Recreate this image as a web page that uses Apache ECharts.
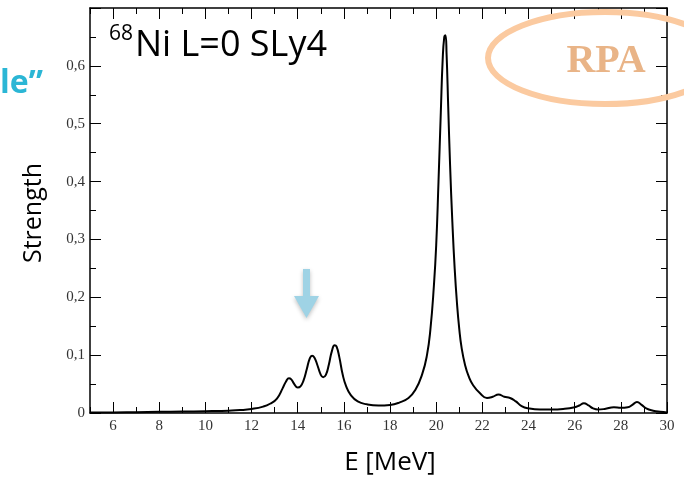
<!DOCTYPE html>
<html>
<head>
<meta charset="utf-8">
<script src="https://cdn.jsdelivr.net/npm/echarts@6/dist/echarts.min.js"></script>
<style>html,body{margin:0;padding:0;background:#fff;}#c{width:684px;height:483px;}</style>
</head>
<body>
<div id="c"></div>
<script>
const energy = [5, 6, 7, 8, 9, 10, 10.5, 11, 11.5, 12, 12.5, 12.8, 13.1, 13.35, 13.5, 13.62, 13.72, 13.85, 14.0, 14.12, 14.25, 14.4, 14.52, 14.62, 14.72, 14.85, 15.0, 15.1, 15.22, 15.35, 15.48, 15.6, 15.68, 15.8, 15.95, 16.1, 16.3, 16.6, 17.0, 17.5, 18.0, 18.4, 18.8, 19.1, 19.4, 19.6, 19.75, 19.9, 20.0, 20.1, 20.2, 20.28, 20.35, 20.4, 20.45, 20.52, 20.6, 20.7, 20.8, 20.9, 21.0, 21.1, 21.25, 21.4, 21.6, 21.9, 22.2, 22.45, 22.7, 22.95, 23.2, 23.45, 23.7, 24.0, 24.5, 25.0, 25.5, 26.0, 26.2, 26.4, 26.6, 26.8, 27.0, 27.3, 27.7, 28.0, 28.3, 28.5, 28.7, 28.9, 29.1, 29.4, 29.7, 30];
const strength = [0.001, 0.001, 0.0015, 0.002, 0.0025, 0.003, 0.0035, 0.004, 0.005, 0.007, 0.011, 0.016, 0.025, 0.043, 0.055, 0.060, 0.058, 0.050, 0.044, 0.046, 0.056, 0.077, 0.094, 0.099, 0.096, 0.083, 0.066, 0.062, 0.066, 0.084, 0.107, 0.117, 0.115, 0.097, 0.066, 0.046, 0.031, 0.020, 0.015, 0.013, 0.014, 0.018, 0.026, 0.040, 0.068, 0.100, 0.145, 0.22, 0.29, 0.40, 0.52, 0.61, 0.65, 0.653, 0.62, 0.53, 0.43, 0.33, 0.25, 0.19, 0.145, 0.113, 0.083, 0.064, 0.048, 0.034, 0.026, 0.028, 0.032, 0.028, 0.026, 0.02, 0.012, 0.008, 0.006, 0.006, 0.007, 0.010, 0.013, 0.017, 0.013, 0.008, 0.006, 0.007, 0.010, 0.009, 0.010, 0.014, 0.019, 0.014, 0.008, 0.004, 0.002, 0.001];
const xLabelValues = [6, 8, 10, 12, 14, 16, 18, 20, 22, 24, 26, 28, 30];
const yTickLabels = ['0', '0,1', '0,2', '0,3', '0,4', '0,5', '0,6'];

const chart = echarts.init(document.getElementById('c'));
const labelFont = {fontFamily: 'Liberation Serif', fontSize: 15, color: '#333'};
function xAx(pos, major, withLabel) {
  const a = {
    type: 'value', min: 5, max: 30, interval: 1, position: pos, gridIndex: 0,
    axisLine: {show: !major, onZero: false, lineStyle: {color: '#000', width: 1.5}},
    axisTick: {show: true, inside: true, length: major ? 11 : 6, lineStyle: {color: '#000', width: 1}},
    axisLabel: {show: false},
    splitLine: {show: false}
  };
  if (major) a.axisTick.customValues = xLabelValues;
  if (withLabel) a.axisLabel = Object.assign({show: true, margin: 6, customValues: xLabelValues}, labelFont);
  return a;
}
function yAx(pos, withLabel) {
  return {
    type: 'value', min: 0, max: 0.7, interval: 0.1, position: pos,
    axisLine: {show: true, onZero: false, lineStyle: {color: '#000', width: 1.5}},
    axisTick: {show: true, inside: true, length: 11, lineStyle: {color: '#000', width: 1}},
    minorTick: {show: true, splitNumber: 2, length: 6, lineStyle: {color: '#000', width: 1}},
    axisLabel: withLabel ? Object.assign({show: true, margin: 5, formatter: function (v) {
      const i = Math.round(v * 10); return i < yTickLabels.length ? yTickLabels[i] : '';
    }}, labelFont) : {show: false},
    splitLine: {show: false}, minorSplitLine: {show: false}
  };
}
chart.setOption({
  animation: false,
  grid: {left: 90, top: 8, right: 17, bottom: 70},
  xAxis: [xAx('bottom', false, true), xAx('bottom', true, false), xAx('top', false, false), xAx('top', true, false)],
  yAxis: [yAx('left', true), yAx('right', false)],
  series: [{
    type: 'line', xAxisIndex: 0, yAxisIndex: 0,
    data: energy.map((e, i) => [e, strength[i]]),
    smooth: 0.5, showSymbol: false,
    lineStyle: {color: '#000', width: 2}
  }],
  graphic: [
    {type: 'text', x: 109, y: 67, style: {
      text: '{s|68}{m|Ni L=0 SLy4}', verticalAlign: 'bottom',
      rich: {s: {fontFamily: 'Open Sans', fontSize: 21, verticalAlign: 'top', padding: [0, 2, 22, 0], fill: '#000'},
             m: {fontFamily: 'Open Sans', fontSize: 36, fill: '#000'}}
    }},
    {type: 'text', left: 0, top: 68, style: {text: 'le\u201d', fontFamily: 'Open Sans', fontWeight: 'bold', fontSize: 32, fill: '#2bb6d5'}},
    {type: 'text', x: 34, y: 213, rotation: Math.PI / 2, style: {text: 'Strength', fontFamily: 'Open Sans', fontSize: 25, fill: '#000', align: 'center', verticalAlign: 'middle'}},
    {type: 'text', x: 390, y: 463, style: {text: 'E [MeV]', fontFamily: 'Open Sans', fontSize: 26, fill: '#000', align: 'center', verticalAlign: 'middle'}},
    {type: 'ellipse', shape: {cx: 605, cy: 58, rx: 117, ry: 46}, style: {fill: 'none', stroke: '#fbcaa0', lineWidth: 6}, z: 100},
    {type: 'text', x: 606, y: 62, style: {text: 'RPA', fontFamily: 'Liberation Serif', fontWeight: 'bold', fontSize: 40, fill: '#e9b487', align: 'center', verticalAlign: 'middle'}, z: 100},
    {type: 'polygon', shape: {points: [[303, 269], [310, 269], [310, 296], [319, 296], [306.5, 318], [294, 296], [303, 296]]},
     style: {fill: '#9fd3e5', shadowBlur: 4, shadowColor: 'rgba(0,0,0,0.25)', shadowOffsetY: 2}, z: 100}
  ]
});
</script>
</body>
</html>
